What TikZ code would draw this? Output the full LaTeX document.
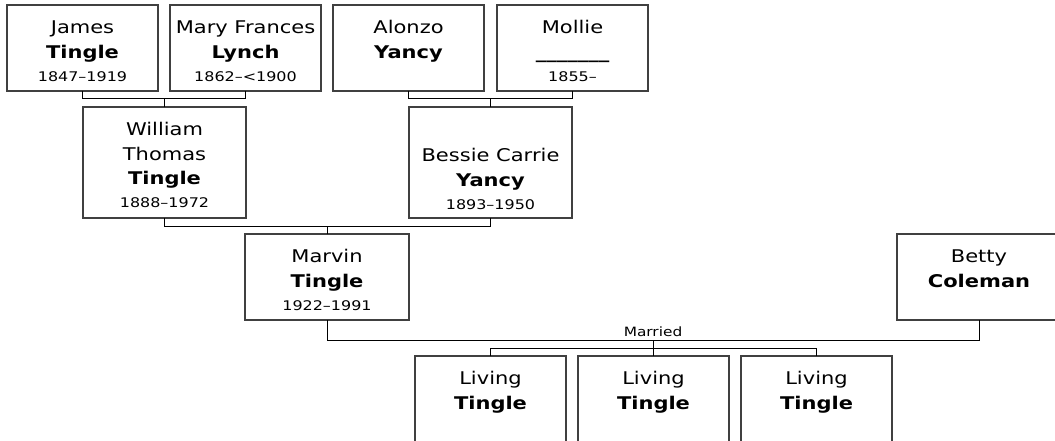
\documentclass[tikz,border=0pt]{standalone}
\usepackage{fontspec}
\setmainfont{DejaVu Sans}[FakeStretch=1.2]
\usetikzlibrary{positioning,calc}
\newcommand\jmf{\fontsize{17.5}{25}\selectfont}
\newcommand\dtf{\fontsize{13.3}{23}\selectfont}
\newcommand\karta[4]{\parbox[c][#2][t]{#1}{\centering\vbox{}\vskip#3\relax#4}}
\tikzset{
  osoba/.style={draw=black!75,line width=1.2pt,inner sep=0pt,outer sep=0pt,anchor=north west},
  spoj/.style={draw=black,line width=1pt},
  svatba/.style={font=\fontsize{12.8}{15}\selectfont,inner sep=0pt},
}
\begin{document}
\begin{tikzpicture}[x=1pt,y=-1pt]
  \useasboundingbox (0,0) rectangle (1055,441);
  \clip (0,0) rectangle (1055,441);
  % grandparents
  \node[osoba] (james) at (7,5) {\karta{151pt}{86pt}{4pt}{\jmf James\par\textbf{Tingle}\par\dtf 1847–1919\par}};
  \node[osoba,right=12pt of james] (mary) {\karta{151pt}{86pt}{4pt}{\jmf Mary Frances\par\textbf{Lynch}\par\dtf 1862–<1900\par}};
  \node[osoba,right=12pt of mary] (alonzo) {\karta{151pt}{86pt}{4pt}{\jmf Alonzo\par\textbf{Yancy}\par}};
  \node[osoba,right=13pt of alonzo] (mollie) {\karta{151pt}{86pt}{4pt}{\jmf Mollie\par\textbf{\_\_\_\_\_\_\_}\par\dtf 1855–\par}};
  % parents
  \node[osoba] (william) at (83,107) {\karta{163pt}{111pt}{3pt}{\jmf William\par Thomas\par\textbf{Tingle}\par\dtf 1888–1972\par}};
  \node[osoba] (bessie) at (409,107) {\karta{163pt}{111pt}{29pt}{\jmf Bessie Carrie\par\textbf{Yancy}\par\dtf 1893–1950\par}};
  \node[osoba] (marvin) at (245,234) {\karta{164pt}{86pt}{3pt}{\jmf Marvin\par\textbf{Tingle}\par\dtf 1922–1991\par}};
  \node[osoba] (betty) at (897,234) {\karta{164pt}{86pt}{3pt}{\jmf Betty\par\textbf{Coleman}\par}};
  % children
  \node[osoba] (kid1) at (415,356) {\karta{151pt}{86pt}{3pt}{\jmf Living\par\textbf{Tingle}\par}};
  \node[osoba,right=12pt of kid1] (kid2) {\karta{151pt}{86pt}{3pt}{\jmf Living\par\textbf{Tingle}\par}};
  \node[osoba,right=12pt of kid2] (kid3) {\karta{151pt}{86pt}{3pt}{\jmf Living\par\textbf{Tingle}\par}};
  % lines
  \draw[spoj] (james.south) -- ++(0,8) coordinate (j1) -| (mary.south);
  \draw[spoj] (william.north) -- (william.north |- j1);
  \draw[spoj] (alonzo.south) -- ++(0,8) coordinate (j2) -| (mollie.south);
  \draw[spoj] (bessie.north) -- (bessie.north |- j2);
  \draw[spoj] (william.south) -- ++(0,8) coordinate (j3) -| (bessie.south);
  \draw[spoj] (marvin.north) -- (marvin.north |- j3);
  \draw[spoj] (marvin.south) -- ++(0,20) coordinate (j4) -| (betty.south);
  \node[svatba,above=3pt] (married) at ($(j4)!.5!(j4 -| betty.south)$) {Married};
  \draw[spoj] (kid1.north) -- ++(0,-8) coordinate (j5) -| (kid3.north);
  \draw[spoj] (kid2.north) -- (kid2.north |- j4);
\end{tikzpicture}
\end{document}
